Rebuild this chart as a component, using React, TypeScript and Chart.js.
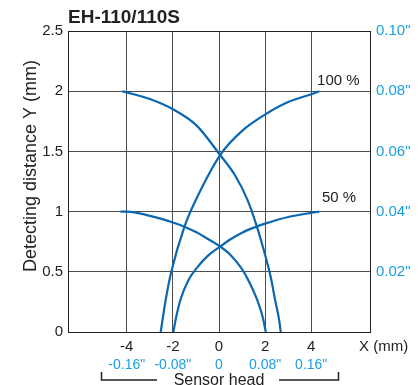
import React, { useEffect, useRef } from 'react';
import { Chart, registerables } from 'chart.js';

Chart.register(...registerables);

const FONT = "'Liberation Sans', Arial, Helvetica, sans-serif";
const DARK = '#222222';
const CYAN = '#1a9fe0';
const BLUE = '#0a67b0';

// X axis (mm) and inch labels
const xTicks = [-4, -2, 0, 2, 4];
const xTickInch = ['-0.16"', '-0.08"', '0', '0.08"', '0.16"'];
// Right axis (inch) labels at mm positions
const yRightTicks = [0.5, 1, 1.5, 2, 2.5];
const yRightInch = ['0.02"', '0.04"', '0.06"', '0.08"', '0.10"'];

// 100 % curves
const c100aX = [-4.2, -4, -3, -2, -1, 0.05, 0.7, 1.23, 1.62, 2.0, 2.25, 2.45, 2.6, 2.68];
const c100aY = [2.0, 1.99, 1.935, 1.85, 1.72, 1.47, 1.3, 1.1, 0.89, 0.64, 0.45, 0.25, 0.11, 0];
const c100bX = [-2.53, -2.45, -2.3, -2.07, -1.49, -1.01, 0.05, 1.0, 2.03, 3.0, 4.0, 4.35];
const c100bY = [0, 0.1, 0.28, 0.5, 0.88, 1.095, 1.47, 1.67, 1.81, 1.91, 1.975, 2.0];
// 50 % curves
const c50aX = [-4.27, -4, -3, -2, -1.5, -1.0, -0.5, 0.05, 0.5, 0.97, 1.3, 1.67, 1.9, 2.03];
const c50aY = [1.0, 1.0, 0.965, 0.91, 0.875, 0.83, 0.775, 0.71, 0.64, 0.53, 0.42, 0.26, 0.12, 0];
const c50bX = [-1.98, -1.85, -1.67, -1.3, -0.97, -0.5, 0.05, 0.5, 1.0, 1.62, 2.0, 3.0, 4.0, 4.35];
const c50bY = [0, 0.13, 0.27, 0.44, 0.53, 0.63, 0.71, 0.77, 0.825, 0.875, 0.9, 0.955, 0.99, 1.0];

const pts = (xs: number[], ys: number[]) => xs.map((x, i) => ({ x, y: ys[i] }));

export default function App() {
  const ref = useRef<HTMLCanvasElement>(null);

  useEffect(() => {
    if (!ref.current) return;
    Chart.defaults.font.family = FONT;

    const labels = {
      id: 'labels',
      afterDraw(chart: any) {
        const ctx = chart.ctx;
        const xs = chart.scales.x;
        const ys = chart.scales.y;
        const area = chart.chartArea;
        ctx.save();
        // frame
        ctx.strokeStyle = DARK;
        ctx.lineWidth = 1;
        ctx.strokeRect(Math.round(area.left) + 0.5, Math.round(area.top) + 0.5,
          Math.round(area.right - area.left), Math.round(area.bottom - area.top));
        ctx.fillStyle = DARK;
        // title
        ctx.font = `bold 19px ${FONT}`;
        ctx.textAlign = 'left';
        ctx.textBaseline = 'middle';
        ctx.fillText('EH-110/110S', area.left, 18);
        // y title
        ctx.font = `18px ${FONT}`;
        ctx.save();
        ctx.translate(31, 166);
        ctx.rotate(-Math.PI / 2);
        ctx.textAlign = 'center';
        ctx.fillText('Detecting distance Y (mm)', 0, 0);
        ctx.restore();
        // X (mm)
        ctx.font = `15px ${FONT}`;
        ctx.textAlign = 'left';
        ctx.fillText('X (mm)', 359, 347);
        // curve labels
        ctx.textAlign = 'right';
        ctx.fillText('100 %', xs.getPixelForValue(6.1), ys.getPixelForValue(2.09));
        ctx.fillText('50 %', xs.getPixelForValue(5.95), ys.getPixelForValue(1.11));
        // sensor head bracket
        const bl = Math.round(xs.getPixelForValue(-5.14)) + 0.5;
        const br = Math.round(xs.getPixelForValue(5.16)) + 0.5;
        ctx.strokeStyle = DARK;
        ctx.lineWidth = 1.5;
        ctx.beginPath();
        ctx.moveTo(bl, 372); ctx.lineTo(bl, 380); ctx.lineTo(157, 380);
        ctx.moveTo(279, 380); ctx.lineTo(br, 380); ctx.lineTo(br, 372);
        ctx.stroke();
        ctx.font = `16px ${FONT}`;
        ctx.textAlign = 'center';
        ctx.textBaseline = 'alphabetic';
        ctx.fillText('Sensor head', xs.getPixelForValue(0), 385);
        ctx.restore();
      },
    };

    const lineDs = (label: string, xs: number[], ys: number[]) => ({
      label,
      data: pts(xs, ys),
      borderColor: BLUE,
      borderWidth: 2.2,
      pointRadius: 0,
      cubicInterpolationMode: 'monotone',
      fill: false,
    });

    const chart = new Chart(ref.current, {
      type: 'line',
      data: {
        datasets: [
          lineDs('100 % a', c100aX, c100aY),
          lineDs('100 % b', c100bX, c100bY),
          lineDs('50 % a', c50aX, c50aY),
          lineDs('50 % b', c50bX, c50bY),
        ],
      },
      options: {
        animation: false,
        responsive: false,
        devicePixelRatio: 1,
        layout: { padding: { top: 31, bottom: 11, left: 0, right: 0 } },
        plugins: { legend: { display: false }, tooltip: { enabled: false }, title: { display: false } },
        scales: {
          x: {
            type: 'linear',
            position: 'bottom',
            weight: 0,
            min: -6.55,
            max: 6.55,
            afterBuildTicks: (s: any) => { s.ticks = xTicks.map((v) => ({ value: v })); },
            afterFit: (s: any) => { s.height = 22; },
            grid: { color: '#4d4d4d', lineWidth: 1, drawTicks: false },
            border: { color: DARK },
            ticks: { color: DARK, font: { size: 15 }, padding: 6, maxRotation: 0, callback: (v: any) => String(v) },
          },
          x2: {
            type: 'linear',
            position: 'bottom',
            weight: 1,
            min: -6.55,
            max: 6.55,
            afterBuildTicks: (s: any) => { s.ticks = xTicks.map((v) => ({ value: v })); },
            afterFit: (s: any) => { s.height = 20; },
            grid: { display: false, drawTicks: false },
            border: { display: false },
            ticks: {
              color: CYAN, font: { size: 14 }, padding: 3, maxRotation: 0,
              callback: (v: any) => { const i = xTicks.indexOf(Number(v)); return i >= 0 ? xTickInch[i] : ''; },
            },
          },
          y: {
            type: 'linear',
            position: 'left',
            min: 0,
            max: 2.5,
            afterFit: (s: any) => { s.width = 68; },
            grid: { color: '#4d4d4d', lineWidth: 1, drawTicks: false },
            border: { color: DARK },
            ticks: { stepSize: 0.5, color: DARK, font: { size: 15 }, padding: 5, callback: (v: any) => String(v) },
          },
          y2: {
            type: 'linear',
            position: 'right',
            min: 0,
            max: 2.5,
            afterBuildTicks: (s: any) => { s.ticks = yRightTicks.map((v) => ({ value: v })); },
            afterFit: (s: any) => { s.width = 50; },
            grid: { display: false, drawTicks: false },
            border: { color: DARK },
            ticks: {
              color: CYAN, font: { size: 15 }, padding: 6,
              callback: (v: any) => { const i = yRightTicks.indexOf(Number(v)); return i >= 0 ? yRightInch[i] : ''; },
            },
          },
        },
      } as any,
      plugins: [labels],
    });
    return () => chart.destroy();
  }, []);

  return (
    <div style={{ position: 'fixed', left: 0, top: 0, width: 420, height: 385, background: '#fff' }}>
      <canvas ref={ref} width={420} height={385} style={{ width: 420, height: 385, display: 'block' }} />
    </div>
  );
}
